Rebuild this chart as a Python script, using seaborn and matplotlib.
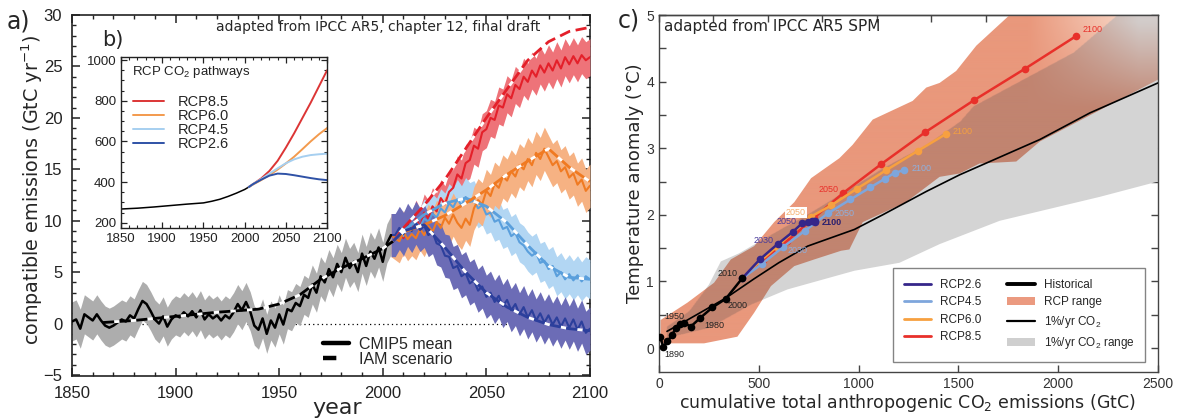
import numpy as np
import matplotlib
matplotlib.use("Agg")
import matplotlib.pyplot as plt
from matplotlib.lines import Line2D
from matplotlib.patches import Patch, Polygon
from matplotlib.path import Path
from matplotlib.ticker import MultipleLocator
import seaborn as sns

# ---------------------------------------------------------------
# a) compatible CO2 emissions (GtC / yr)
# ---------------------------------------------------------------
hist_years = list(range(1850, 2005, 2))
hist_emis = [0.2, 0.4, -0.5, 0.9, 0.6, 0.3, 0.9, 0.3, -0.2, -0.4,
             -0.2, 0.1, 0.4, 0.2, 0.8, 0.5, 1.4, 2.2, 1.9, 1.2,
             0.4, 0.0, 0.7, -0.3, 0.4, 0.8, 0.6, 1.1, 0.7, 1.2,
             0.6, 1.3, 0.4, 0.9, 0.5, 0.8, 0.3, 0.8, 0.5, 1.1,
             1.9, 1.3, 2.1, 1.2, -0.2, -0.6, 0.5, -1.0, 0.3, -0.4,
             0.9, -0.1, 1.4, 1.2, 2.0, 1.7, 2.8, 2.5, 3.8, 3.0,
             4.6, 4.0, 5.3, 4.5, 5.8, 5.0, 6.4, 5.4, 6.0, 5.0,
             6.8, 5.6, 7.0, 6.3, 7.4, 6.0, 7.8, 8.6]

rcp_years = list(range(2006, 2101, 2))
rcp85_emis = [8.4, 8.9, 8.3, 9.6, 9.0, 10.2, 9.4, 10.8, 10.2, 11.4,
              10.9, 12.2, 11.6, 12.8, 13.2, 14.5, 14.1, 15.6, 15.9, 17.3,
              17.0, 18.6, 18.9, 20.0, 19.8, 21.2, 21.0, 22.3, 21.9, 23.2,
              22.8, 24.0, 23.5, 24.6, 24.0, 25.1, 24.4, 25.3, 24.6, 25.6,
              24.8, 25.9, 25.2, 26.0, 25.3, 26.1, 25.6, 25.9]
rcp60_emis = [8.3, 8.0, 8.9, 8.2, 8.7, 8.3, 9.2, 8.6, 9.5, 8.9,
              9.9, 9.3, 10.3, 9.7, 10.6, 9.8, 9.3, 10.2, 9.6, 11.2,
              12.0, 11.6, 12.9, 12.4, 13.6, 13.2, 14.3, 13.9, 14.8, 14.3,
              15.4, 15.0, 16.0, 15.4, 16.6, 16.0, 17.0, 16.2, 15.4, 15.8,
              14.8, 15.2, 14.2, 14.6, 13.5, 14.0, 12.9, 13.4]
rcp45_emis = [8.4, 8.9, 8.5, 9.3, 9.0, 9.8, 9.4, 10.2, 9.9, 10.7,
              10.3, 11.2, 10.8, 11.7, 11.3, 12.1, 11.5, 12.3, 11.8, 12.0,
              11.2, 11.5, 10.6, 10.8, 9.9, 10.1, 9.2, 9.4, 8.5, 8.8,
              7.9, 7.6, 7.0, 6.6, 6.9, 5.9, 6.1, 5.3, 5.6, 4.6,
              5.0, 4.3, 4.8, 4.2, 4.7, 4.1, 4.6, 4.3]
rcp26_emis = [8.6, 9.3, 8.7, 9.6, 9.0, 9.8, 9.1, 9.5, 8.6, 8.9,
              7.8, 7.6, 6.6, 6.5, 5.4, 5.6, 4.6, 4.9, 3.9, 4.2,
              3.2, 3.6, 2.6, 3.0, 2.1, 2.7, 1.7, 2.3, 1.3, 1.9,
              0.9, 1.6, 0.6, 1.3, 0.3, 1.0, 0.1, 0.8, -0.1, 0.6,
              -0.3, 0.5, -0.4, 0.4, -0.6, 0.2, -0.9, -0.5]

# model spread (half width of the CMIP5 range, GtC/yr)
hist_spread = 1.9
rcp85_spread = 1.8
rcp60_spread = 2.1
rcp45_spread = 1.9
rcp26_spread = 2.1

# IAM scenario emissions
iam_hist_years = [1865, 1880, 1900, 1920, 1940, 1950, 1960, 1970, 1980, 1990, 2000, 2005]
iam_hist = [0.1, 0.3, 0.7, 1.1, 1.4, 1.9, 2.8, 4.3, 5.4, 6.3, 7.3, 8.0]
iam_years = [2005, 2010, 2020, 2030, 2040, 2050, 2060, 2070, 2080, 2090, 2100]
iam_rcp85 = [8.0, 9.3, 11.5, 14.0, 17.0, 20.0, 22.8, 25.6, 27.4, 28.4, 28.8]
iam_rcp60 = [8.0, 8.9, 9.6, 10.5, 11.7, 13.0, 14.5, 15.8, 17.0, 15.2, 13.8]
iam_rcp45 = [8.0, 9.0, 10.6, 11.7, 12.2, 11.4, 9.8, 7.6, 5.6, 4.5, 4.3]
iam_rcp26 = [8.0, 9.0, 9.6, 7.4, 5.0, 3.0, 1.6, 0.6, -0.1, -0.5, -0.7]

# ---------------------------------------------------------------
# b) RCP CO2 concentration pathways (ppm)
# ---------------------------------------------------------------
conc_hist_years = [1850, 1870, 1890, 1910, 1930, 1950, 1960, 1970, 1980, 1990, 2000, 2005]
conc_hist = [268, 272, 278, 285, 292, 298, 306, 316, 330, 346, 364, 376]
conc_years = [2005, 2010, 2020, 2030, 2040, 2050, 2060, 2070, 2080, 2090, 2100]
conc_rcp85 = [376, 390, 418, 455, 505, 570, 640, 715, 790, 870, 950]
conc_rcp60 = [376, 388, 410, 435, 462, 492, 525, 562, 600, 635, 666]
conc_rcp45 = [376, 390, 415, 442, 468, 493, 512, 525, 533, 537, 540]
conc_rcp26 = [376, 390, 412, 432, 442, 440, 434, 427, 420, 414, 410]

# ---------------------------------------------------------------
# c) warming vs cumulative emissions
# ---------------------------------------------------------------
hist_cum = [5, 22, 42, 67, 84, 105, 126, 159, 206, 268, 335, 418]
hist_temp = [0.17, 0.02, 0.10, 0.20, 0.30, 0.36, 0.38, 0.32, 0.45, 0.61, 0.74, 1.05]
rcp26_cum = [418, 505, 594, 669, 716, 745, 766, 776, 781, 783]
rcp26_temp = [1.05, 1.33, 1.56, 1.74, 1.87, 1.89, 1.91, 1.90, 1.90, 1.89]
rcp45_cum = [418, 515, 619, 731, 845, 959, 1058, 1131, 1181, 1228]
rcp45_temp = [1.05, 1.26, 1.51, 1.76, 2.02, 2.23, 2.41, 2.54, 2.63, 2.67]
rcp60_cum = [418, 505, 590, 672, 760, 862, 991, 1138, 1297, 1436]
rcp60_temp = [1.05, 1.30, 1.52, 1.74, 1.97, 2.14, 2.39, 2.67, 2.96, 3.21]
rcp85_cum = [418, 520, 640, 775, 924, 1113, 1334, 1578, 1832, 2088]
rcp85_temp = [1.05, 1.32, 1.60, 1.95, 2.33, 2.76, 3.24, 3.72, 4.19, 4.68]

one_pct_cum = [40, 142, 335, 477, 600, 745, 979, 1121, 1339, 1506, 1908, 2159, 2500]
one_pct_temp = [0.25, 0.42, 0.75, 1.04, 1.28, 1.53, 1.78, 2.0, 2.35, 2.6, 3.13, 3.53, 3.98]

rcp_range_hi_cum = [8, 142, 276, 360, 477, 577, 678, 762, 904, 970, 1071, 1271, 1339,
                    1406, 1489, 1590, 1757, 2500]
rcp_range_hi_temp = [0.42, 0.68, 0.98, 1.33, 1.53, 1.89, 2.19, 2.55, 2.85, 3.05, 3.43, 3.71,
                     3.91, 3.98, 4.16, 4.54, 5.0, 5.0]
rcp_range_lo_cum = [8, 226, 393, 477, 561, 678, 778, 912, 954, 1021, 1238, 1406, 1506,
                    1606, 1790, 1908, 2500]
rcp_range_lo_temp = [0.07, 0.07, 0.17, 0.53, 0.93, 1.23, 1.33, 1.46, 1.48, 1.89, 2.19, 2.57,
                     2.62, 2.77, 2.8, 3.1, 4.03]
pct_range_hi_cum = [40, 150, 250, 310, 400, 619, 736, 954, 1121, 1339, 1506, 1573, 1790,
                    2075, 2293, 2500]
pct_range_hi_temp = [0.32, 0.55, 0.95, 1.3, 1.42, 1.8, 1.99, 2.39, 2.7, 3.05, 3.4, 3.63,
                     3.98, 4.44, 5.0, 5.0]
pct_range_lo_cum = [40, 250, 460, 644, 979, 1205, 1406, 1707, 1958, 2209, 2500]
pct_range_lo_temp = [0.15, 0.3, 0.65, 0.88, 1.16, 1.28, 1.56, 1.91, 2.09, 2.27, 2.5]

# ---------------------------------------------------------------
# styling
# ---------------------------------------------------------------
sns.set_theme(style="ticks")
plt.rcParams["font.family"] = ["DejaVu Sans"]
plt.rcParams["mathtext.default"] = "regular"
TICKFONT = "Liberation Sans"

C_RED, C_RED_BAND = "#e4202a", "#ee7379"
C_ORA, C_ORA_BAND = "#f07a22", "#f6b283"
C_LBL, C_LBL_BAND = "#5a9fdc", "#b2d6f3"
C_DBL, C_DBL_BAND = "#2c3f9c", "#6c6cb6"
C_GRY_BAND = "#adadad"

fig = plt.figure(figsize=(11.78, 4.19), dpi=100)

# ======================= panel a =======================
ax = fig.add_axes([0.0611, 0.1026, 0.4397, 0.8616])
ax.axhline(0, color="black", lw=0.9, ls=(0, (1, 2.5)), zorder=1)

def band(years, mean, spread, color, z):
    m = np.asarray(mean, dtype=float)
    ax.fill_between(years, m - spread, m + spread, color=color, lw=0, zorder=z)

hy = np.asarray(hist_years)
ry = np.concatenate([[hist_years[-1]], rcp_years])
band(hy, hist_emis, hist_spread, C_GRY_BAND, 2)
series = [
    (rcp85_emis, rcp85_spread, C_RED, C_RED_BAND, iam_rcp85),
    (rcp45_emis, rcp45_spread, C_LBL, C_LBL_BAND, iam_rcp45),
    (rcp60_emis, rcp60_spread, C_ORA, C_ORA_BAND, iam_rcp60),
    (rcp26_emis, rcp26_spread, C_DBL, C_DBL_BAND, iam_rcp26),
]
for i, (vals, spr, col, bcol, _) in enumerate(series):
    full = np.concatenate([[hist_emis[-1]], vals])
    band(ry, full, spr, bcol, 3 + i)
for i, (vals, spr, col, bcol, _) in enumerate(series):
    full = np.concatenate([[hist_emis[-1]], vals])
    sns.lineplot(x=ry, y=full, ax=ax, color=col, lw=1.5, zorder=8 + i)
sns.lineplot(x=hy, y=hist_emis, ax=ax, color="black", lw=1.8, zorder=12)

dash = (0, (4, 2))
ax.plot(iam_hist_years, iam_hist, color="black", lw=2, ls=dash, gapcolor="white", zorder=13)
for vals, spr, col, bcol, iam in series:
    ax.plot(iam_years, iam, color=col, lw=2, ls=dash, gapcolor="white", zorder=14)

ax.set_xlim(1850, 2100)
ax.set_ylim(-5.1, 30)
ax.xaxis.set_major_locator(MultipleLocator(50))
ax.xaxis.set_minor_locator(MultipleLocator(10))
ax.yaxis.set_major_locator(MultipleLocator(5))
ax.yaxis.set_minor_locator(MultipleLocator(1))
ax.tick_params(which="both", direction="in", top=True, right=True, color="#222222")
ax.tick_params(which="major", length=6, width=1.1, labelsize=12, labelcolor="#222222", pad=7)
ax.tick_params(which="minor", length=3, width=1.0)
for lab in ax.get_xticklabels() + ax.get_yticklabels():
    lab.set_fontfamily(TICKFONT)
for s in ax.spines.values():
    s.set_linewidth(1.2)
    s.set_color("#222222")
ax.set_xlabel("year", fontsize=16)
ax.xaxis.set_label_coords(0.512, -0.062)
ax.set_ylabel("compatible emissions (GtC yr$^{-1}$)", fontsize=13.8)
ax.yaxis.set_label_coords(-0.052, 0.515)
ax.text(0.278, 0.966, "adapted from IPCC AR5, chapter 12, final draft", transform=ax.transAxes,
        fontsize=10, va="center", ha="left", zorder=20)

leg_a = ax.legend(handles=[Line2D([], [], color="black", lw=3.2),
                           Line2D([], [], color="black", lw=3.2, dashes=(3, 10))],
                  labels=["CMIP5 mean", "IAM scenario"], loc="upper left",
                  bbox_to_anchor=(0.4846, 0.108), frameon=False,
                  handlelength=1.65, handletextpad=0.6, labelspacing=0.0,
                  borderpad=0, borderaxespad=0, prop={"family": TICKFONT, "size": 11.5})

# ======================= panel b (inset) =======================
axb = fig.add_axes([0.1027, 0.456, 0.175, 0.408])
axb.set_facecolor("white")
axb.set_zorder(30)
sns.lineplot(x=conc_hist_years, y=conc_hist, ax=axb, color="black", lw=1.1)
for vals, col, name in [(conc_rcp85, "#dc3535", "RCP8.5"), (conc_rcp60, "#f39a4d", "RCP6.0"),
                        (conc_rcp45, "#a6cff0", "RCP4.5"), (conc_rcp26, "#2f52a6", "RCP2.6")]:
    sns.lineplot(x=conc_years, y=vals, ax=axb, color=col, lw=1.4, label=name)
axb.set_xlim(1850, 2100)
axb.set_ylim(175, 1015)
axb.xaxis.set_major_locator(MultipleLocator(50))
axb.xaxis.set_minor_locator(MultipleLocator(10))
axb.yaxis.set_major_locator(MultipleLocator(200))
axb.yaxis.set_minor_locator(MultipleLocator(50))
axb.tick_params(which="both", direction="in", top=True, right=True, color="#222222")
axb.tick_params(which="major", length=4, width=0.9, labelsize=9.5, labelcolor="#222222")
axb.tick_params(which="minor", length=2, width=0.8)
for lab in axb.get_xticklabels() + axb.get_yticklabels():
    lab.set_fontfamily(TICKFONT)
for s in axb.spines.values():
    s.set_linewidth(1.0)
    s.set_color("#222222")
axb.set_xlabel("")
axb.set_ylabel("")
axb.text(0.055, 0.91, "RCP CO$_2$ pathways", transform=axb.transAxes, fontsize=9.5,
         family=TICKFONT, va="center", color="#222222")
axb.legend(loc="upper left", bbox_to_anchor=(0.058, 0.775), frameon=False,
           prop={"family": TICKFONT, "size": 10.5}, handlelength=2.1, handletextpad=1.0,
           labelspacing=0.0, borderpad=0, borderaxespad=0)

# ======================= panel c =======================
axc = fig.add_axes([0.5594, 0.1122, 0.4236, 0.852])
C_SALMON = np.array([233, 152, 124]) / 255
C_BROWN = np.array([193, 132, 112]) / 255
C_GRAY = np.array([212, 212, 212]) / 255
C_PEACH = np.array([250, 226, 212]) / 255

rcp_poly = np.column_stack([rcp_range_hi_cum + rcp_range_lo_cum[::-1],
                            rcp_range_hi_temp + rcp_range_lo_temp[::-1]])
pct_poly = np.column_stack([pct_range_hi_cum + pct_range_lo_cum[::-1],
                            pct_range_hi_temp + pct_range_lo_temp[::-1]])
axc.add_patch(Polygon(pct_poly, closed=True, facecolor=C_GRAY, edgecolor="none", zorder=1))
rcp_patch = Polygon(rcp_poly, closed=True, facecolor="none", edgecolor="none", zorder=2)
axc.add_patch(rcp_patch)

# shading of the RCP range: darker where it overlies the 1%/yr range, fading toward the top right
gx = np.linspace(0, 2500, 1000)
gy = np.linspace(-0.36, 5.0, 700)
GX, GY = np.meshgrid(gx, gy)
inside = Path(pct_poly).contains_points(np.column_stack([GX.ravel(), GY.ravel()])).reshape(GX.shape)
fade = 0.9 * (np.clip((GX - 1850) / 550, 0, 1) * np.clip((GY - 3.6) / 1.3, 0, 1))[..., None]
base = np.where(inside[..., None], C_BROWN, C_SALMON)
target = np.where(inside[..., None], C_GRAY, C_PEACH)
shade = base * (1 - fade) + target * fade
img = axc.imshow(shade, extent=[0, 2500, -0.36, 5.0], origin="lower", aspect="auto",
                 interpolation="bilinear", zorder=2)
img.set_clip_path(rcp_patch)

sns.lineplot(x=one_pct_cum, y=one_pct_temp, ax=axc, color="black", lw=1.2, zorder=4)
C_P26, C_P45, C_P60, C_P85 = "#35268a", "#7ea6dc", "#f7a040", "#e8302a"
for cum, tmp, col, z in [(rcp85_cum, rcp85_temp, C_P85, 5), (rcp60_cum, rcp60_temp, C_P60, 6),
                         (rcp45_cum, rcp45_temp, C_P45, 7), (rcp26_cum, rcp26_temp, C_P26, 8)]:
    sns.lineplot(x=cum, y=tmp, ax=axc, color=col, lw=1.8, marker="o", markersize=5.5,
                 markeredgewidth=0, sort=False, zorder=z)
sns.lineplot(x=hist_cum, y=hist_temp, ax=axc, color="black", lw=1.8, marker="o", markersize=5.5,
             markeredgewidth=0, sort=False, zorder=9)

def year_label(cum, tmp, idx, year, dx, dy, color, ha, **kw):
    axc.annotate(str(year), xy=(cum[idx], tmp[idx]), xytext=(dx, dy), textcoords="offset pixels",
                 ha=ha, va="center", fontsize=6.5, color=color, family=TICKFONT, zorder=12, **kw)

year_label(hist_cum, hist_temp, 1, 1890, 1, -8, "#222222", "left")
year_label(hist_cum, hist_temp, 5, 1950, -6, 8, "#222222", "center")
year_label(hist_cum, hist_temp, 8, 1980, 14, -7, "#222222", "center")
year_label(hist_cum, hist_temp, 10, 2000, 12, -7, "#222222", "center")
year_label(hist_cum, hist_temp, 11, 2010, -15, 5, "#222222", "center")
year_label(rcp26_cum, rcp26_temp, 2, 2030, -4, 4, "#4a3a9a", "right")
year_label(rcp26_cum, rcp26_temp, 4, 2050, -5, 2, "#4a3a9a", "right")
year_label(rcp26_cum, rcp26_temp, 9, 2100, 6, 0, "#2a1f6e", "left", fontweight="bold")
year_label(rcp45_cum, rcp45_temp, 2, 2030, 5, -3, "#8fb0de", "left")
year_label(rcp45_cum, rcp45_temp, 4, 2050, 7, 0, "#8fb0de", "left")
year_label(rcp45_cum, rcp45_temp, 9, 2100, 7, 2, "#8fb0de", "left")
year_label(rcp60_cum, rcp60_temp, 4, 2050, -5, 4, "#f5b070", "right",
           bbox=dict(boxstyle="square,pad=0.1", fc="white", ec="none"))
year_label(rcp60_cum, rcp60_temp, 9, 2100, 7, 3, "#f5a040", "left")
year_label(rcp85_cum, rcp85_temp, 4, 2050, -5, 3, "#e8302a", "right")
year_label(rcp85_cum, rcp85_temp, 9, 2100, 7, 7, "#e8302a", "left")

axc.set_xlim(0, 2500)
axc.set_ylim(-0.36, 5.0)
axc.xaxis.set_major_locator(MultipleLocator(500))
axc.yaxis.set_major_locator(MultipleLocator(1))
axc.yaxis.set_minor_locator(MultipleLocator(0.5))
axc.tick_params(which="both", direction="in", right=True, color="#444444")
axc.tick_params(which="major", length=5, width=1.0, labelsize=10, labelcolor="#333333")
axc.tick_params(which="minor", length=5, width=1.0)
for lab in axc.get_xticklabels() + axc.get_yticklabels():
    lab.set_fontfamily(TICKFONT)
top = axc.secondary_xaxis("top", functions=(lambda v: v * 3.667, lambda v: v / 3.667))
top.xaxis.set_major_locator(MultipleLocator(1000))
top.tick_params(direction="in", length=5, width=1.0, labeltop=False, color="#444444")
for s in list(axc.spines.values()) + list(top.spines.values()):
    s.set_linewidth(1.0)
    s.set_color("#444444")
axc.set_xlabel("cumulative total anthropogenic CO$_2$ emissions (GtC)", fontsize=12.5)
axc.xaxis.set_label_coords(0.497, -0.055)
axc.set_ylabel("Temperature anomaly (\u00b0C)", fontsize=13)
axc.yaxis.set_label_coords(-0.03, 0.53)
axc.text(0.01, 0.967, "adapted from IPCC AR5 SPM", transform=axc.transAxes, fontsize=11,
         va="center", ha="left", zorder=20)

handles = [Line2D([], [], color=C_P26, lw=2), Line2D([], [], color=C_P45, lw=2),
           Line2D([], [], color=C_P60, lw=2), Line2D([], [], color=C_P85, lw=2),
           Line2D([], [], color="black", lw=2.8), Patch(facecolor="#eb9a80", edgecolor="none"),
           Line2D([], [], color="black", lw=1.6), Patch(facecolor="#cfcfcf", edgecolor="none")]
labels = ["RCP2.6", "RCP4.5", "RCP6.0", "RCP8.5", "Historical", "RCP range",
          "1%/yr CO$_2$", "1%/yr CO$_2$ range"]
leg_c = axc.legend(handles, labels, ncol=2, loc="lower right", bbox_to_anchor=(0.974, 0.028),
                   borderaxespad=0, frameon=True, fancybox=False, edgecolor="#666666",
                   prop={"family": TICKFONT, "size": 8.5}, handlelength=2.3, handletextpad=0.76,
                   columnspacing=2.2, labelspacing=0.47, borderpad=0.9)
leg_c.get_frame().set_linewidth(1.0)
leg_c.set_zorder(20)

fig.text(0.006, 0.948, "a)", fontsize=17, va="center")
fig.text(0.0866, 0.905, "b)", fontsize=15, va="center")
fig.text(0.524, 0.950, "c)", fontsize=17, va="center")

fig.savefig("out.png", dpi=100)
